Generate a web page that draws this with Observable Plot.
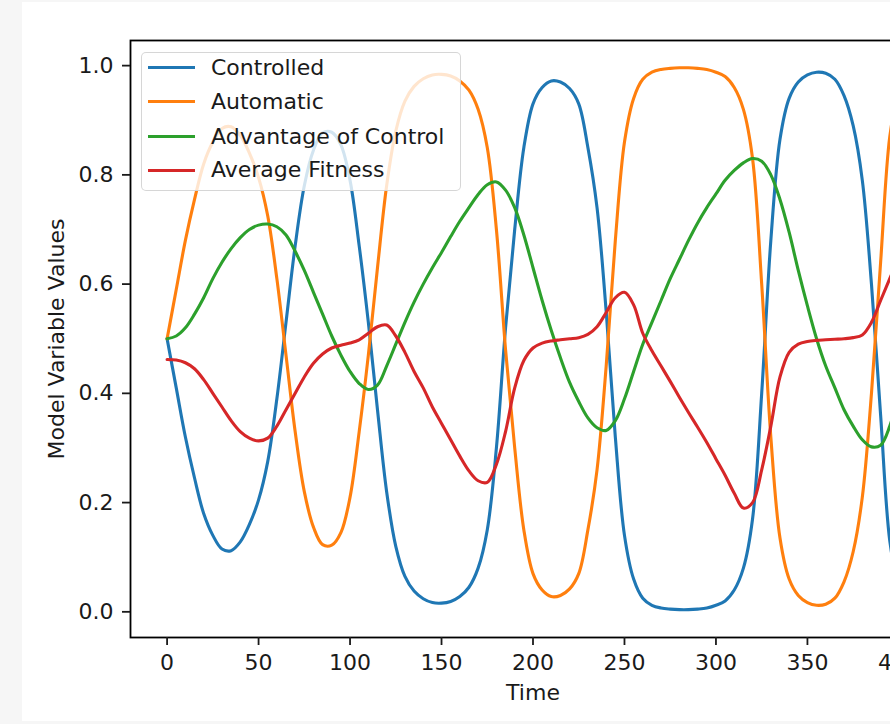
<!DOCTYPE html>
<html><head><meta charset="utf-8">
<script src="https://cdn.jsdelivr.net/npm/d3@7"></script>
<script src="https://cdn.jsdelivr.net/npm/@observablehq/plot@0.6"></script>
<style>
html,body{margin:0;padding:0;overflow:hidden;background:#f6f6f6;width:890px;height:724px;}
#fig{position:absolute;left:22px;top:2px;width:868px;height:719px;background:#fff;}
#chart{position:absolute;left:0;top:0;}
#legendbox{position:absolute;left:141px;top:52px;width:318px;height:137px;background:rgba(255,255,255,0.8);border:1.5px solid rgba(204,204,204,0.8);border-radius:5px;}
.lg-line{position:absolute;left:148px;width:47px;height:3.2px;}
.lg-text{position:absolute;left:211px;height:26px;line-height:26px;font-family:"DejaVu Sans";font-size:22px;color:#1a1a1a;white-space:nowrap;}
</style>
</head><body>
<div id="fig"></div>
<div id="chart"></div>
<div id="legendbox"></div>
<script>
const time = [0,5,10,15,20,25,30,35,40,45,50,55,60,65,70,75,80,85,90,95,100,105,110,115,120,125,130,135,140,145,150,155,160,165,170,175,180,185,190,195,200,205,210,215,220,225,230,235,240,245,250,255,260,265,270,275,280,285,290,295,300,305,310,315,320,325,330,335,340,345,350,355,360,365,370,375,380,385,390,395,400];

const controlled = [0.50,0.41,0.32,0.245,0.18,0.14,0.115,0.112,0.128,0.16,0.205,0.275,0.39,0.53,0.67,0.78,0.845,0.877,0.878,0.855,0.79,0.67,0.53,0.37,0.22,0.12,0.065,0.038,0.024,0.017,0.016,0.019,0.028,0.045,0.08,0.15,0.30,0.52,0.70,0.85,0.93,0.96,0.972,0.97,0.958,0.93,0.85,0.74,0.55,0.32,0.14,0.06,0.025,0.012,0.007,0.005,0.004,0.004,0.005,0.007,0.012,0.02,0.04,0.08,0.17,0.40,0.68,0.865,0.94,0.97,0.983,0.988,0.986,0.975,0.945,0.89,0.79,0.60,0.36,0.13,0.04];

const automatic = [0.50,0.59,0.68,0.755,0.82,0.86,0.885,0.888,0.872,0.84,0.795,0.725,0.61,0.47,0.33,0.22,0.155,0.123,0.122,0.145,0.21,0.33,0.47,0.63,0.78,0.88,0.935,0.962,0.976,0.983,0.984,0.981,0.972,0.955,0.92,0.85,0.70,0.48,0.30,0.15,0.07,0.04,0.028,0.03,0.042,0.07,0.15,0.26,0.45,0.68,0.86,0.94,0.975,0.988,0.993,0.995,0.996,0.996,0.995,0.993,0.988,0.98,0.96,0.92,0.83,0.60,0.32,0.135,0.06,0.03,0.017,0.012,0.014,0.025,0.055,0.11,0.21,0.40,0.64,0.87,0.96];

const advantage = [0.50,0.505,0.52,0.545,0.575,0.61,0.64,0.665,0.685,0.70,0.708,0.71,0.705,0.69,0.66,0.625,0.585,0.545,0.505,0.47,0.44,0.418,0.407,0.415,0.45,0.49,0.53,0.567,0.60,0.63,0.658,0.687,0.715,0.74,0.764,0.782,0.787,0.772,0.74,0.69,0.63,0.57,0.515,0.465,0.42,0.385,0.355,0.337,0.332,0.35,0.39,0.44,0.49,0.53,0.57,0.61,0.645,0.68,0.712,0.74,0.765,0.79,0.808,0.822,0.83,0.825,0.80,0.755,0.695,0.625,0.56,0.50,0.45,0.41,0.37,0.34,0.315,0.302,0.305,0.34,0.40];

const fitness = [0.462,0.461,0.456,0.445,0.425,0.40,0.375,0.35,0.33,0.318,0.313,0.318,0.34,0.37,0.40,0.43,0.455,0.472,0.483,0.488,0.492,0.498,0.51,0.522,0.525,0.505,0.475,0.44,0.41,0.375,0.345,0.315,0.285,0.258,0.24,0.237,0.27,0.33,0.41,0.46,0.483,0.492,0.496,0.498,0.50,0.502,0.508,0.522,0.548,0.575,0.585,0.562,0.51,0.478,0.45,0.422,0.393,0.365,0.338,0.31,0.28,0.25,0.217,0.19,0.20,0.26,0.34,0.43,0.475,0.49,0.495,0.497,0.498,0.499,0.50,0.502,0.507,0.53,0.57,0.61,0.65];

const seriesNames = ["Controlled","Automatic","Advantage of Control","Average Fitness"];
const seriesColors = ["#1f77b4","#ff7f0e","#2ca02c","#d62728"];
const xTicks = [0,50,100,150,200,250,300,350,400];
const yTicks = [0.0,0.2,0.4,0.6,0.8,1.0];
const xLabel = "Time";
const yLabel = "Model Variable Values";

const seriesValues = [controlled, automatic, advantage, fitness];
const rows = [];
seriesNames.forEach((name, s) => {
  time.forEach((t, i) => rows.push({time: t, value: seriesValues[s][i], series: name}));
});

const chart = Plot.plot({
  width: 1000, height: 724,
  marginLeft: 130, marginRight: 65, marginTop: 40, marginBottom: 87,
  style: {background: "transparent", maxWidth: "none", fontFamily: "DejaVu Sans", fontSize: "22px", color: "#1a1a1a", overflow: "visible"},
  x: {domain: [-20, 420]},
  y: {domain: [-0.047, 1.046]},
  color: {domain: seriesNames, range: seriesColors},
  marks: [
    Plot.line(rows, {x: "time", y: "value", stroke: "series", z: "series", strokeWidth: 3.1, curve: "catmull-rom"}),
    Plot.frame({stroke: "#000", strokeWidth: 1.8}),
    Plot.axisX({ticks: xTicks, tickSize: 8, tickPadding: 9, strokeWidth: 1.8, tickFormat: d => String(d), label: null, fontSize: 22}),
    Plot.axisY({ticks: yTicks, tickSize: 8, tickPadding: 9, strokeWidth: 1.8, tickFormat: d => d.toFixed(1), label: null, fontSize: 22}),
    Plot.text([xLabel], {frameAnchor: "bottom", dy: 62, fontSize: 22}),
    Plot.text([yLabel], {frameAnchor: "left", dx: -74, rotate: -90, textAnchor: "middle", fontSize: 22})
  ]
});
document.getElementById("chart").appendChild(chart);

const centers = [67.7, 101.7, 136.5, 170.3];
seriesNames.forEach((name, i) => {
  const ln = document.createElement("div");
  ln.className = "lg-line";
  ln.style.top = (centers[i] - 1.6) + "px";
  ln.style.background = seriesColors[i];
  document.body.appendChild(ln);
  const tx = document.createElement("div");
  tx.className = "lg-text";
  tx.style.top = (centers[i] - 13) + "px";
  tx.textContent = name;
  document.body.appendChild(tx);
});
</script>
</body></html>
